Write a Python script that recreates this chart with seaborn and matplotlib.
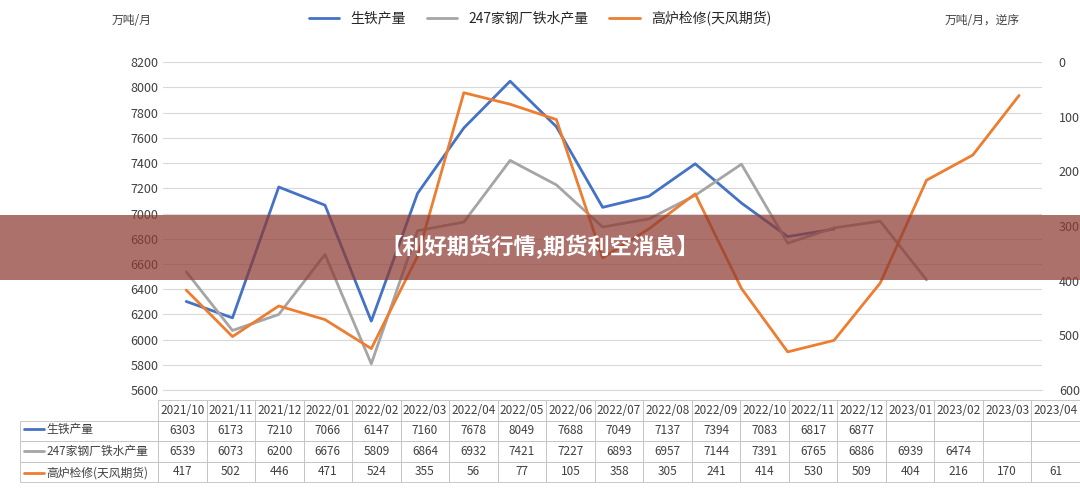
import matplotlib
matplotlib.use("Agg")
import matplotlib.pyplot as plt
import seaborn as sns
import numpy as np
from matplotlib.patches import Rectangle
from matplotlib.lines import Line2D

sns.set_style("white")
plt.rcParams['font.family'] = ['Noto Sans CJK SC', 'DejaVu Sans']

months = ["2021/10", "2021/11", "2021/12", "2022/01", "2022/02", "2022/03", "2022/04",
          "2022/05", "2022/06", "2022/07", "2022/08", "2022/09", "2022/10", "2022/11",
          "2022/12", "2023/01", "2023/02", "2023/03", "2023/04"]
pig_iron = [6303, 6173, 7210, 7066, 6147, 7160, 7678, 8049, 7688, 7049, 7137, 7394, 7083, 6817, 6877]
mill_247 = [6539, 6073, 6200, 6676, 5809, 6864, 6932, 7421, 7227, 6893, 6957, 7144, 7391, 6765, 6886, 6939, 6474]
blast_maint = [417, 502, 446, 471, 524, 355, 56, 77, 105, 358, 305, 241, 414, 530, 509, 404, 216, 170, 61]

names = ["生铁产量", "247家钢厂铁水产量", "高炉检修(天风期货)"]
colors = ["#4472C4", "#A5A5A5", "#ED7D31"]

fig = plt.figure(figsize=(10.8, 4.97), dpi=100)
ax = fig.add_axes([0.151, 0.215, 0.814, 0.66])
x = np.arange(len(months))
sns.lineplot(x=x[:len(pig_iron)], y=pig_iron, ax=ax, color=colors[0], lw=2)
sns.lineplot(x=x[:len(mill_247)], y=mill_247, ax=ax, color=colors[1], lw=2)
ax.set_xlim(-0.5, len(months) - 0.5)
ax.set_ylim(5600, 8200)
ax.set_yticks(range(5600, 8201, 200))
ax.set_xticks([])
ax.grid(axis="y", color="#D9D9D9", lw=0.8)
for s in ax.spines.values():
    s.set_visible(False)
ax.spines["bottom"].set_visible(True)
ax.spines["bottom"].set_color("#D9D9D9")
ax.tick_params(axis="y", labelsize=9, colors="#404040", length=0)

ax2 = ax.twinx()
sns.lineplot(x=x, y=blast_maint, ax=ax2, color=colors[2], lw=2)
ax2.set_ylim(600, 0)
ax2.set_yticks(range(0, 601, 100))
for s in ax2.spines.values():
    s.set_visible(False)
ax2.tick_params(axis="y", labelsize=9, colors="#404040", length=0, pad=12)

fig.text(112 / 1080, 1 - 20 / 497, "万吨/月", fontsize=8.5, ha="left", va="center", color="#404040")
fig.text(945 / 1080, 1 - 20 / 497, "万吨/月，逆序", fontsize=8.5, ha="left", va="center", color="#404040")
handles = [Line2D([], [], color=c, lw=2) for c in colors]
fig.legend(handles, names, loc="center", bbox_to_anchor=(0.5, 1 - 18 / 497), ncol=3,
           frameon=False, fontsize=10, handlelength=2.2, columnspacing=1.5)

# data table
tab_ax = fig.add_axes([20 / 1080, 1 - 482 / 497, 1060 / 1080, 82 / 497])
tab_ax.axis("off")
cell_text = [[""] + months]
for vals in (pig_iron, mill_247, blast_maint):
    cell_text.append([""] + [str(v) for v in vals] + [""] * (len(months) - len(vals)))
col_w = [138 / 1060] + [922 / 1060 / len(months)] * len(months)
tbl = tab_ax.table(cellText=cell_text, colWidths=col_w, bbox=[0, 0, 1, 1], cellLoc="center")
tbl.auto_set_font_size(False)
tbl.set_fontsize(8.5)
for (r, c), cell in tbl.get_celld().items():
    cell.set_edgecolor("#BFBFBF")
    cell.set_linewidth(0.6)
    cell.get_text().set_color("#404040")
    if r == 0 and c == 0:
        cell.visible_edges = ""
for i, (n, c) in enumerate(zip(names, colors)):
    yc = 1 - (429 + 22 * i) / 497
    fig.add_artist(Line2D([24 / 1080, 44 / 1080], [yc, yc], color=c, lw=2, transform=fig.transFigure))
    fig.text(46 / 1080, yc, n, fontsize=8.5, va="center", ha="left", color="#404040")

# banner overlay
fig.add_artist(Rectangle((0, 1 - 280 / 497), 1, 65 / 497, transform=fig.transFigure,
                         facecolor="#8E3B33", alpha=0.72, edgecolor="none", zorder=10))
fig.text(0.5, 1 - 247 / 497, "【利好期货行情,期货利空消息】", fontsize=16, fontweight="bold",
         color="white", ha="center", va="center", zorder=11)

fig.savefig("out.png", dpi=100)
